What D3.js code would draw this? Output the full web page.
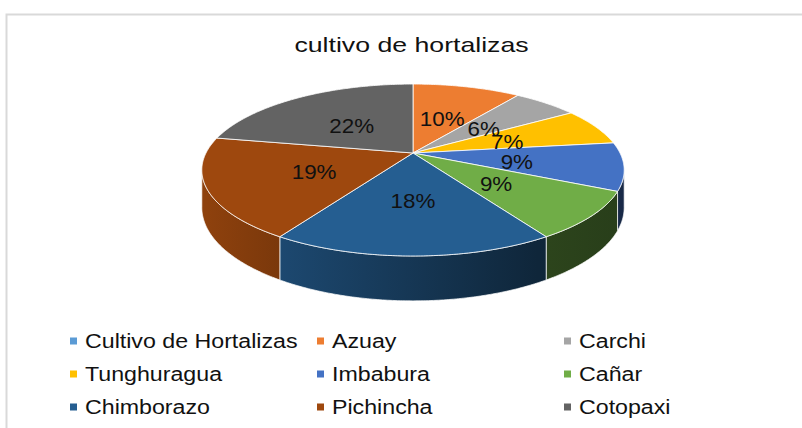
<!DOCTYPE html>
<html lang="es">
<head>
<meta charset="utf-8">
<title>cultivo de hortalizas</title>
<script src="https://cdn.jsdelivr.net/npm/d3@7"></script>
<style>
  body { margin: 0; background: #fff; }
  svg { display: block; font-family: "Liberation Sans", Arial, sans-serif; }
</style>
</head>
<body>
<script>
  // data
  var provinces = ["Cultivo de Hortalizas", "Azuay", "Carchi", "Tunghuragua", "Imbabura",
                   "Cañar", "Chimborazo", "Pichincha", "Cotopaxi"];
  var shares = [0, 10, 6, 7, 9, 9, 18, 19, 22];
  var colors = ["#5B9BD5", "#ED7D31", "#A5A5A5", "#FFC000", "#4472C4",
                "#70AD47", "#255E91", "#9E480E", "#636363"];
  var title = "cultivo de hortalizas";

  var width = 802, height = 428;

  var svg = d3.select("body").append("svg")
      .attr("width", width)
      .attr("height", height);

  // chart frame (cut off on the right and at the bottom)
  svg.append("path")
      .attr("d", "M6.5," + height + "V14.5H" + width)
      .attr("fill", "none")
      .attr("stroke", "#d9d9d9")
      .attr("stroke-width", 2);

  // title
  svg.append("g")
      .attr("transform", "translate(411.5,52)")
    .append("text")
      .attr("transform", "scale(1.27,1)")
      .attr("text-anchor", "middle")
      .attr("font-size", 21)
      .attr("fill", "#111")
      .text(title);

  // 3d pie, simple perspective
  var cx = 413, cy = 153, rx = 207, ry = 82.6, k = 0.198, depth = 36;

  function proj(a, r, h) {
    var u = r * Math.sin(a), v = -r * Math.cos(a);
    var p = 1 / (1 - k * v);
    return [cx + rx * u * p, cy + ry * v * p + h * p];
  }

  function arcPoints(a0, a1, h) {
    var n = Math.max(2, Math.ceil((a1 - a0) / 0.01)), pts = [];
    for (var i = 0; i <= n; i++) pts.push(proj(a0 + (a1 - a0) * i / n, 1, h));
    return pts;
  }

  var line = d3.line();
  var pie = d3.pie().sort(null).value(function(d) { return d; });
  var arcs = pie(shares).map(function(d, i) {
    d.name = provinces[i];
    d.color = colors[i];
    return d;
  }).filter(function(d) { return d.value > 0; });

  var total = d3.sum(shares);

  // side walls: only the part that faces the viewer
  var vis0 = Math.PI / 2 + Math.asin(k), vis1 = 3 * Math.PI / 2 - Math.asin(k);

  var defs = svg.append("defs");
  arcs.forEach(function(d, i) {
    var c = d3.rgb(d.color);
    var g = defs.append("linearGradient")
        .attr("id", "side" + i)
        .attr("gradientUnits", "userSpaceOnUse")
        .attr("x1", cx - rx).attr("x2", cx + rx)
        .attr("y1", 0).attr("y2", 0);
    [[0, 0.9], [0.2, 0.76], [0.8, 0.4], [1, 0.36]].forEach(function(s) {
      g.append("stop")
          .attr("offset", s[0])
          .attr("stop-color", d3.rgb(c.r * s[1], c.g * s[1], c.b * s[1]));
    });
  });

  var walls = svg.append("g");
  arcs.forEach(function(d, i) {
    var a0 = Math.max(d.startAngle, vis0), a1 = Math.min(d.endAngle, vis1);
    if (a1 <= a0) return;
    var pts = arcPoints(a0, a1, 0).concat(arcPoints(a0, a1, depth).reverse());
    walls.append("path")
        .attr("d", line(pts) + "Z")
        .attr("fill", "url(#side" + i + ")")
        .attr("stroke", "#fff")
        .attr("stroke-opacity", 0.7)
        .attr("stroke-width", 1);
  });

  // top faces
  var tops = svg.append("g");
  arcs.forEach(function(d) {
    var pts = [proj(0, 0, 0)].concat(arcPoints(d.startAngle, d.endAngle, 0));
    tops.append("path")
        .attr("d", line(pts) + "Z")
        .attr("fill", d.color)
        .attr("stroke", "#fff")
        .attr("stroke-opacity", 0.8)
        .attr("stroke-width", 1)
        .attr("stroke-linejoin", "round");
  });

  // percentage labels
  var labels = svg.append("g");
  arcs.forEach(function(d) {
    var pos = proj((d.startAngle + d.endAngle) / 2, 0.5, 0);
    labels.append("g")
        .attr("transform", "translate(" + pos[0] + "," + (pos[1] + 2) + ")")
      .append("text")
        .attr("transform", "scale(1.12,1)")
        .attr("text-anchor", "middle")
        .attr("dy", "0.36em")
        .attr("font-size", 20)
        .attr("fill", "#111")
        .text(Math.round(d.value / total * 100) + "%");
  });

  // legend, three columns
  var colX = [70, 317, 564], rowY = [341, 374, 407];
  var legend = svg.append("g");
  provinces.forEach(function(name, i) {
    var x = colX[i % 3], y = rowY[Math.floor(i / 3)];
    legend.append("rect")
        .attr("x", x).attr("y", y - 3.5)
        .attr("width", 7).attr("height", 7)
        .attr("fill", colors[i]);
    legend.append("g")
        .attr("transform", "translate(" + (x + 15) + "," + (y + 7) + ")")
      .append("text")
        .attr("transform", "scale(1.16,1)")
        .attr("font-size", 20)
        .attr("fill", "#111")
        .text(name);
  });
</script>
</body>
</html>
